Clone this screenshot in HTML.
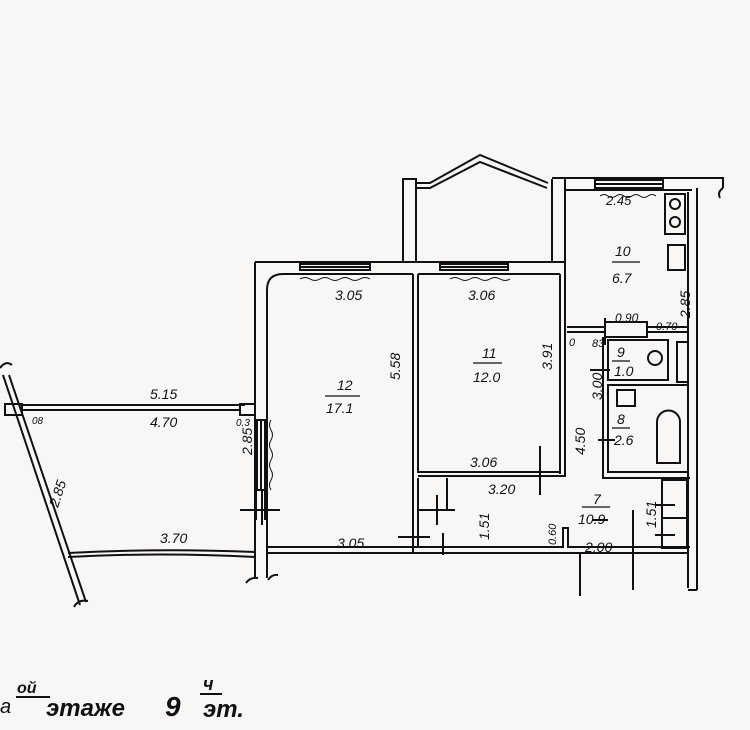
<!DOCTYPE html>
<html><head><meta charset="utf-8"><style>
html,body{margin:0;padding:0;background:#f8f7f5;}
svg{display:block}
text{font-family:"Liberation Sans",sans-serif;font-style:italic;fill:#111}
</style></head><body>
<svg width="750" height="730" viewBox="0 0 750 730" font-size="14">
<rect width="750" height="730" fill="#f8f7f5"/>
<g fill="none" stroke="#111" stroke-width="2">
<path d="M255 262 V578 M267 290 V578"/>
<path d="M267 290 Q267 274 283 274 H413"/>
<path d="M255 262 H565"/>
<path d="M418 274 H560"/>
<rect x="300" y="264" width="70" height="6"/><line x1="300" y1="267" x2="370" y2="267"/>
<rect x="440" y="264" width="68" height="6"/><line x1="440" y1="267" x2="508" y2="267"/>
<path d="M300 279 q5 -3 10 0 t10 0 t10 0 t10 0 t10 0 t10 0 t10 0" stroke-width="1"/>
<path d="M450 279 q5 -3 10 0 t10 0 t10 0 t10 0 t10 0 t10 0" stroke-width="1"/>
<path d="M403 262 V179 H416 V262"/>
<path d="M416 183 H430 L480 155 L548 183 M416 188 H430 L480 162 L547 188"/>
<path d="M552 179 V262 M565 179 V274 M552 262 H565"/>
<path d="M552 178 H723 V188 M565 190 H692 M723 188 q-6 4 -3 10"/>
<rect x="595" y="180" width="68" height="8"/><line x1="595" y1="184" x2="663" y2="184"/>
<path d="M600 196 q4 -3 8 0 t8 0 t8 0 t8 0 t8 0 t8 0 t8 0" stroke-width="1"/>
<path d="M688 192 V588 M697 188 V590"/>
<rect x="665" y="194" width="20" height="40"/><circle cx="675" cy="204" r="5"/><circle cx="675" cy="222" r="5"/>
<rect x="668" y="245" width="17" height="25"/>
<path d="M560 274 V474 M565 274 V332 M413 274 V553 M418 274 V472 H560"/>
<path d="M418 476 H565 V332"/>
<path d="M567 327 H605 M567 332 H605 M647 327 H688 M647 332 H688"/>
<rect x="605" y="322" width="42" height="15"/>
<path d="M603 337 V478 H690"/>
<rect x="608" y="340" width="60" height="40"/><circle cx="655" cy="358" r="7"/>
<rect x="677" y="342" width="11" height="40"/>
<rect x="608" y="385" width="80" height="87"/>
<path d="M657 463 V422 a11.5 11.5 0 0 1 23 0 V463 Z"/>
<rect x="617" y="390" width="18" height="16"/>
<path d="M267 547 H563 V528 H568 V547 H690 M267 553 H688"/>
<rect x="662" y="480" width="25" height="68"/><line x1="662" y1="518" x2="687" y2="518"/>
<path d="M418 478 V548 M418 510 H447 V478"/>
<path d="M580 596 V553" />
<path d="M688 590 H697"/>
<path d="M437 495 V525 M425 510 H455 M443 533 V555 M398 537 H430 M540 446 V495 M605 318 V345 M633 510 V590 M655 505 H675 M655 535 H675 M592 520 H608 M590 370 H610 M598 440 H615 M240 510 H280 M262 490 V525"/>
<path d="M20 405 H245 M22 410 H240"/>
<rect x="5" y="404" width="17" height="11"/><rect x="240" y="404" width="15" height="11"/>
<path d="M3 375 L80 605 M9 375 L86 602"/>
<path d="M68 553 Q160 548 255 552 M68 557 Q160 552 255 557"/>
<path d="M0 368 q6 -8 12 -3 M74 607 q4 -8 14 -6 M246 583 q4 -6 12 -5 M268 580 q4 -6 10 -5"/>
<rect x="257" y="420" width="8" height="70"/><line x1="261" y1="420" x2="261" y2="490"/>
<path d="M271 420 q-3 5 0 10 t0 10 t0 10 t0 10 t0 10 t0 10 t0 10" stroke-width="1"/>
<path d="M256 490 V520 M265 490 V520"/>
<path d="M325 396 H360 M473 363 H502 M612 262 H640 M612 361 H630 M612 428 H630 M582 507 H610" stroke-width="1.2"/>
</g>
<g>
<text x="150" y="399">5.15</text>
<text x="150" y="427">4.70</text>
<text x="32" y="424" font-size="10">08</text>
<text x="236" y="426" font-size="10">0.3</text>
<text x="160" y="543">3.70</text>
<text x="335" y="300">3.05</text>
<text x="468" y="300">3.06</text>
<text x="337" y="390">12</text>
<text x="326" y="413">17.1</text>
<text x="482" y="358">11</text>
<text x="473" y="382">12.0</text>
<text x="470" y="467">3.06</text>
<text x="488" y="494">3.20</text>
<text x="337" y="548">3.05</text>
<text x="615" y="256">10</text>
<text x="612" y="283">6.7</text>
<text x="606" y="205" font-size="13">2.45</text>
<text x="615" y="322" font-size="12">0.90</text>
<text x="656" y="330" font-size="11">0.70</text>
<text x="569" y="346" font-size="11">0</text>
<text x="592" y="347" font-size="11">83</text>
<text x="617" y="357">9</text>
<text x="614" y="376">1.0</text>
<text x="617" y="424">8</text>
<text x="614" y="445">2.6</text>
<text x="593" y="504">7</text>
<text x="578" y="524">10.9</text>
<text x="585" y="552">2.00</text>
<text transform="translate(400 380) rotate(-90)">5.58</text>
<text transform="translate(552 370) rotate(-90)">3.91</text>
<text transform="translate(602 400) rotate(-90)">3.00</text>
<text transform="translate(585 455) rotate(-90)">4.50</text>
<text transform="translate(489 540) rotate(-90)">1.51</text>
<text transform="translate(556 545) rotate(-90)" font-size="11">0.60</text>
<text transform="translate(656 528) rotate(-90)">1.51</text>
<text transform="translate(690 318) rotate(-90)">2.85</text>
<text transform="translate(252 455) rotate(-90)">2.85</text>
<text transform="translate(58 508) rotate(-72)">2.85</text>
<text x="0" y="713" font-size="20">a</text>
<text x="17" y="693" font-size="16" font-weight="bold">ой</text>
<line x1="16" y1="697" x2="50" y2="697" stroke="#111" stroke-width="2"/>
<text x="46" y="716" font-size="24" font-weight="bold">этаже</text>
<text x="165" y="716" font-size="28" font-weight="bold">9</text>
<text x="203" y="690" font-size="18" font-weight="bold">ч</text>
<line x1="200" y1="694" x2="222" y2="694" stroke="#111" stroke-width="2"/>
<text x="203" y="717" font-size="24" font-weight="bold">эт.</text>
</g>
</svg>
</body></html>
